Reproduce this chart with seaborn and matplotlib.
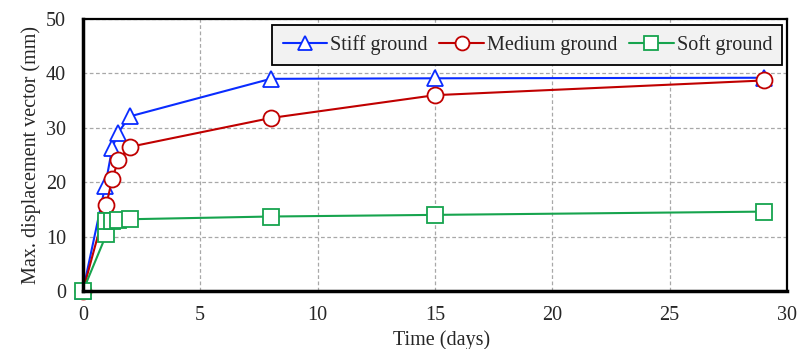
import matplotlib
matplotlib.use("Agg")
import matplotlib.pyplot as plt
import seaborn as sns
import pandas as pd

# Data
stiff_t = [0, 0.95, 1.25, 1.5, 2, 8, 15, 29]
stiff_v = [0, 19.3, 26.3, 29.1, 32.1, 39.0, 39.1, 39.2]
medium_t = [0, 1, 1.25, 1.5, 2, 8, 15, 29]
medium_v = [0, 15.9, 20.6, 24.0, 26.5, 31.8, 36.0, 38.7]
soft_t = [0, 1, 1, 1.25, 1.5, 2, 8, 15, 29]
soft_v = [0, 10.4, 12.9, 12.9, 13.0, 13.2, 13.7, 14.0, 14.6]
labels = ["Stiff ground", "Medium ground", "Soft ground"]
colors = ["#0a2cff", "#c00000", "#16a44e"]
markers = ["^", "o", "s"]
msizes = [12, 11.5, 12]
xticks = [0, 5, 10, 15, 20, 25, 30]
yticks = [0, 10, 20, 30, 40, 50]

sns.set_style("white")
plt.rcParams["font.family"] = ["Liberation Serif", "DejaVu Serif"]

fig = plt.figure(figsize=(7.97, 3.49), dpi=100)
ax = fig.add_axes([0.104, 0.166, 0.8835, 0.7796])

for t, v, lab, c, m, ms in zip([stiff_t, medium_t, soft_t], [stiff_v, medium_v, soft_v],
                               labels, colors, markers, msizes):
    df = pd.DataFrame({"t": t, "v": v})
    sns.lineplot(data=df, x="t", y="v", ax=ax, estimator=None, sort=False,
                 color=c, marker=m, markersize=ms, markerfacecolor="white",
                 markeredgecolor=c, markeredgewidth=1.3, linewidth=1.5, label=lab,
                 clip_on=False)

ax.set_xlim(0, 30)
ax.set_ylim(0, 50)
ax.set_xticks(xticks)
ax.set_yticks(yticks)
ax.tick_params(axis="x", length=0, labelsize=14.5, pad=11)
ax.tick_params(axis="y", length=0, labelsize=14.5, pad=12)
ax.set_xlabel("Time (days)", fontsize=14.5, labelpad=1)
ax.xaxis.set_label_coords(0.51, -0.145)
ax.set_ylabel("Max. displacement vector (mm)", fontsize=14.5, labelpad=4)
ax.grid(True, linestyle=(0, (3, 2)), color="#a8a8a8", linewidth=0.9)
for s in ["top", "right"]:
    ax.spines[s].set_color("black")
    ax.spines[s].set_linewidth(1.6)
for s in ["left", "bottom"]:
    ax.spines[s].set_color("black")
    ax.spines[s].set_linewidth(2.5)

leg = ax.legend(loc="upper right", bbox_to_anchor=(0.993, 0.978), ncol=3, fontsize=14.5,
                frameon=True, fancybox=False, edgecolor="black", facecolor="#f2f2f2",
                framealpha=1, handlelength=2.2, handletextpad=0.15, columnspacing=0.6,
                borderpad=0.5, borderaxespad=0)
leg.get_frame().set_linewidth(1.3)
for h in leg.legend_handles:
    h.set_markersize(10)

fig.savefig("out.png", dpi=100)
